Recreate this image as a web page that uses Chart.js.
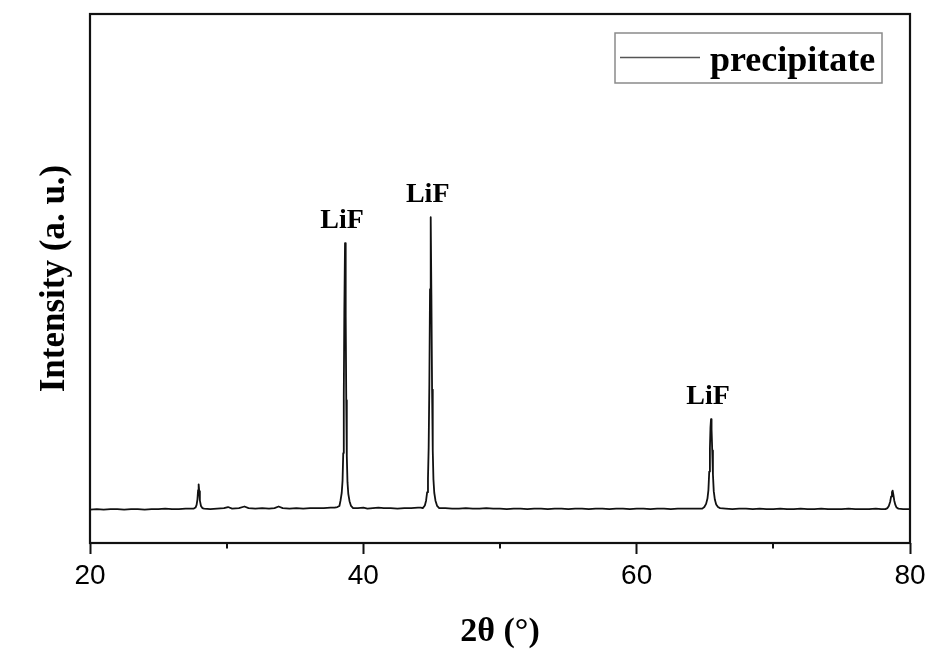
<!DOCTYPE html>
<html>
<head>
<meta charset="utf-8">
<script src="https://cdn.jsdelivr.net/npm/chart.js@4/dist/chart.umd.min.js"></script>
<style>
  html, body { margin: 0; padding: 0; background: #ffffff; }
  #wrap { width: 933px; height: 655px; }
</style>
</head>
<body>
<div id="wrap"><canvas id="xrd" width="933" height="655"></canvas></div>
<script>
// XRD pattern of the precipitate: diffraction angle 2θ (degrees) and intensity (a. u.)
const twoTheta = [
  20.0, 20.5, 21.0, 21.5, 22.0, 22.5, 23.0, 23.5, 24.0, 24.5, 25.0, 25.5, 26.0, 26.5, 27.0, 27.3,
  27.60, 27.72, 27.80, 27.86, 27.91, 27.95, 27.99, 28.04, 28.12, 28.22, 28.35,
  28.8, 29.3, 29.8, 30.1, 30.4, 30.9, 31.3, 31.6, 32.1, 32.6, 33.1, 33.5, 33.8, 34.1, 34.6, 35.1,
  35.6, 36.1, 36.6, 37.1, 37.6, 37.9,
  38.10, 38.25, 38.33, 38.42, 38.48, 38.53, 38.57, 38.61, 38.66, 38.71, 38.75, 38.79, 38.84, 38.90,
  38.99, 39.10, 39.25,
  39.6, 40.0, 40.3, 40.7, 41.1, 41.5, 42.0, 42.5, 43.0, 43.5, 44.0, 44.2,
  44.35, 44.50, 44.59, 44.67, 44.73, 44.78, 44.83, 44.88, 44.93, 44.98, 45.03, 45.08, 45.13, 45.19,
  45.28, 45.40, 45.55,
  46.0, 46.5, 47.0, 47.5, 48.0, 48.5, 49.0, 49.5, 50.0, 50.5, 51.0, 51.5, 52.0, 52.5, 53.0, 53.5,
  54.0, 54.5, 55.0, 55.5, 56.0, 56.5, 57.0, 57.5, 58.0, 58.5, 59.0, 59.5, 60.0, 60.5, 61.0, 61.5,
  62.0, 62.5, 63.0, 63.5, 64.0, 64.4,
  64.80, 64.95, 65.08, 65.18, 65.25, 65.31, 65.36, 65.40, 65.44, 65.48, 65.53, 65.58, 65.64, 65.72,
  65.82, 65.95, 66.10,
  66.5, 67.0, 67.5, 68.0, 68.5, 69.0, 69.5, 70.0, 70.5, 71.0, 71.5, 72.0, 72.5, 73.0, 73.5, 74.0,
  74.5, 75.0, 75.5, 76.0, 76.5, 77.0, 77.5, 77.9,
  78.20, 78.35, 78.45, 78.55, 78.62, 78.68, 78.73, 78.78, 78.85, 78.93, 79.02, 79.15, 79.5, 80.0
];
const intensity = [
  63, 64, 63, 64, 64, 63, 64, 64, 63, 64, 64, 65, 64, 64, 65, 65,
  65, 67, 72, 82, 100, 111, 98, 80, 70, 66, 65,
  64, 65, 66, 68, 65, 66, 69, 66, 65, 66, 65, 66, 69, 66, 65, 66,
  65, 66, 66, 66, 67, 67,
  68, 70, 80, 95, 118, 170, 280, 440, 567, 430, 270, 165, 115, 93,
  79, 70, 66,
  66, 67, 65, 66, 67, 66, 66, 65, 66, 66, 67, 67,
  66, 71, 80, 96, 122, 180, 300, 480, 616, 470, 290, 175, 120, 95,
  80, 70, 66,
  66, 65, 65, 66, 65, 65, 66, 65, 65, 64, 65, 65, 64, 65, 65, 64,
  65, 65, 64, 65, 65, 64, 65, 65, 64, 65, 65, 64, 65, 65, 64, 65,
  65, 64, 65, 65, 65, 65,
  65, 68, 74, 84, 100, 135, 180, 218, 234, 215, 175, 130, 98, 82,
  73, 68, 66,
  65, 64, 65, 65, 64, 65, 64, 64, 65, 64, 64, 65, 64, 64, 65, 64,
  64, 64, 65, 64, 64, 64, 65, 64,
  64, 66, 70, 78, 88, 96, 99, 92, 80, 72, 67, 65, 64, 64
];

// Reflections that are identified on the pattern
const phaseLabels = ['LiF', 'LiF', 'LiF'];
const phasePeaks = [38.66, 44.93, 65.44];

// Axis ticks
const xMajorTicks = [20, 40, 60, 80];
const xMinorTicks = [30, 50, 70];
const seriesName = 'precipitate';

const serif = '"Liberation Serif", "Times New Roman", serif';
const sans = '"Liberation Sans", Arial, sans-serif';

// Closed frame around the plot area plus the short minor ticks on the 2θ axis
const framePlugin = {
  id: 'frame',
  afterDraw(chart) {
    const { ctx, chartArea: a, scales } = chart;
    ctx.save();
    ctx.strokeStyle = '#111';
    ctx.lineWidth = 2.2;
    ctx.strokeRect(a.left, a.top, a.right - a.left, a.bottom - a.top);
    ctx.lineWidth = 2;
    ctx.beginPath();
    xMinorTicks.forEach(v => {
      const px = Math.round(scales.x.getPixelForValue(v));
      ctx.moveTo(px, a.bottom);
      ctx.lineTo(px, a.bottom + 5.5);
    });
    ctx.stroke();
    ctx.restore();
  }
};

// Phase labels placed just above each identified peak
const phasePlugin = {
  id: 'phaseLabels',
  afterDatasetsDraw(chart) {
    const { ctx, scales } = chart;
    ctx.save();
    ctx.font = 'bold 28px ' + serif;
    ctx.fillStyle = '#000';
    ctx.textAlign = 'center';
    ctx.textBaseline = 'alphabetic';
    phasePeaks.forEach((pos, i) => {
      const idx = twoTheta.indexOf(pos);
      const top = intensity[idx];
      const px = scales.x.getPixelForValue(pos) - 3;
      const py = scales.y.getPixelForValue(top) - 15;
      ctx.fillText(phaseLabels[i], px, py);
    });
    ctx.restore();
  }
};

// Boxed legend in the upper-right corner of the plot area
const boxLegendPlugin = {
  id: 'boxLegend',
  afterDraw(chart) {
    const { ctx, chartArea: a } = chart;
    const ds = chart.data.datasets[0];
    const bx = a.right - 295, by = a.top + 19, bw = 267, bh = 50;
    ctx.save();
    ctx.strokeStyle = '#8a8a8a';
    ctx.lineWidth = 1.5;
    ctx.strokeRect(bx, by, bw, bh);
    ctx.strokeStyle = '#555';
    ctx.lineWidth = 1.5;
    ctx.beginPath();
    ctx.moveTo(bx + 5, by + 24.5);
    ctx.lineTo(bx + 85, by + 24.5);
    ctx.stroke();
    ctx.font = 'bold 36px ' + serif;
    ctx.fillStyle = '#000';
    ctx.textAlign = 'left';
    ctx.textBaseline = 'alphabetic';
    ctx.fillText(ds.label, bx + 95, by + 38);
    ctx.restore();
  }
};

new Chart(document.getElementById('xrd'), {
  type: 'scatter',
  data: {
    datasets: [{
      label: seriesName,
      data: twoTheta.map((x, i) => ({ x: x, y: intensity[i] })),
      showLine: true,
      borderColor: '#111',
      borderWidth: 1.8,
      borderJoinStyle: 'round',
      pointRadius: 0,
      tension: 0
    }]
  },
  options: {
    responsive: false,
    animation: false,
    devicePixelRatio: 1,
    layout: { padding: { top: 14, right: 23, left: 0, bottom: 0 } },
    plugins: { legend: { display: false }, tooltip: { enabled: false } },
    scales: {
      x: {
        type: 'linear',
        min: 20,
        max: 80,
        afterBuildTicks: s => { s.ticks = xMajorTicks.map(v => ({ value: v })); },
        afterFit: s => { s.height = 112; },
        ticks: {
          font: { family: sans, size: 28 },
          color: '#000',
          padding: 5,
          maxRotation: 0,
          autoSkip: false
        },
        grid: { drawOnChartArea: false, tickLength: 11, tickWidth: 2, tickColor: '#111' },
        border: { display: false },
        title: {
          display: true,
          text: '2θ (°)',
          color: '#000',
          font: { family: serif, size: 34, weight: 'bold' },
          padding: { top: 0, bottom: 2 }
        }
      },
      y: {
        min: 0,
        max: 1000,
        afterFit: s => { s.width = 90; },
        ticks: { display: false },
        grid: { display: false },
        border: { display: false },
        title: {
          display: true,
          text: 'Intensity (a. u.)',
          color: '#000',
          font: { family: serif, size: 35, weight: 'bold' },
          padding: { top: 34, bottom: 0 }
        }
      }
    }
  },
  plugins: [framePlugin, phasePlugin, boxLegendPlugin]
});
</script>
</body>
</html>
